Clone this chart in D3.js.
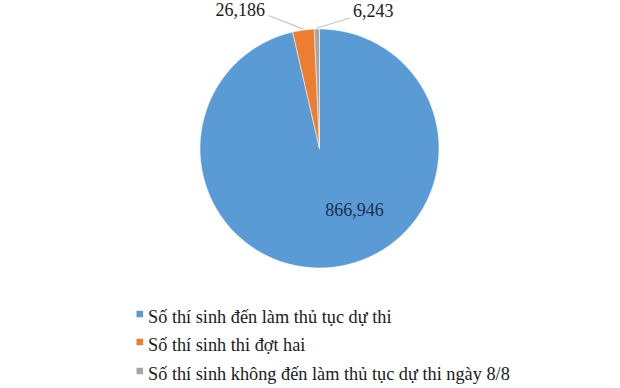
<!DOCTYPE html>
<html><head><meta charset="utf-8">
<script src="https://cdn.jsdelivr.net/npm/d3@7"></script>
<style>body{margin:0;background:#fff}svg{display:block}</style>
</head><body>
<svg id="c" width="620" height="388"></svg>
<script>
const categories = ["Số thí sinh đến làm thủ tục dự thi", "Số thí sinh thi đợt hai", "Số thí sinh không đến làm thủ tục dự thi ngày 8/8"];
const values = [866946, 26186, 6243];
const colors = ["#5B9BD5", "#ED7D31", "#A5A5A5"];

const svg = d3.select("#c");
const cx = 319.5, cy = 148.5, r = 119.5;
const fmt = d3.format(",");
const FONT = '"Liberation Serif"';

const pie = d3.pie().sort(null).value(d => d)(values);
const arc = d3.arc().innerRadius(0).outerRadius(r);
const g = svg.append("g").attr("transform", `translate(${cx},${cy})`);
g.selectAll("path").data(pie).join("path")
  .attr("d", arc).attr("fill", (d, i) => colors[i])
  .attr("stroke", "#fff").attr("stroke-width", 0.5);

// label for big slice (inside)
g.append("text")
  .attr("x", 35).attr("y", 67.5)
  .attr("text-anchor", "middle")
  .style("font-family", FONT).style("font-size", "18px")
  .attr("fill", "#1b2f4f")
  .text(fmt(values[0]));

// outside labels with leader lines
const outer = d3.arc().innerRadius(r + 1).outerRadius(r + 1);
const labelPos = [null,
  {lx: -51, ly: -133, anchor: "end", tx: -54.5, ty: -133},
  {lx: 30.5, ly: -130.5, anchor: "start", tx: 33.5, ty: -131.5}];
[1, 2].forEach(i => {
  const p = outer.centroid(pie[i]);
  const L = labelPos[i];
  g.append("line")
    .attr("x1", p[0]).attr("y1", p[1])
    .attr("x2", L.lx).attr("y2", L.ly)
    .attr("stroke", "#c4c4c4").attr("stroke-width", 1.2);
  g.append("text")
    .attr("x", L.tx).attr("y", L.ty)
    .attr("text-anchor", L.anchor)
    .style("font-family", FONT).style("font-size", "18px")
    .attr("fill", "#1a1a1a")
    .text(fmt(values[i]));
});

// legend
const leg = svg.append("g");
const rows = [314, 342, 371];
categories.forEach((c, i) => {
  leg.append("rect").attr("x", 136.5).attr("y", rows[i] - 3.25).attr("width", 6.5).attr("height", 6.5).attr("fill", colors[i]);
  leg.append("text").attr("x", 148).attr("y", rows[i] + 8.5)
    .style("font-family", FONT).style("font-size", "18.3px").attr("fill", "#1a1a1a")
    .text(c);
});
</script>
</body></html>
